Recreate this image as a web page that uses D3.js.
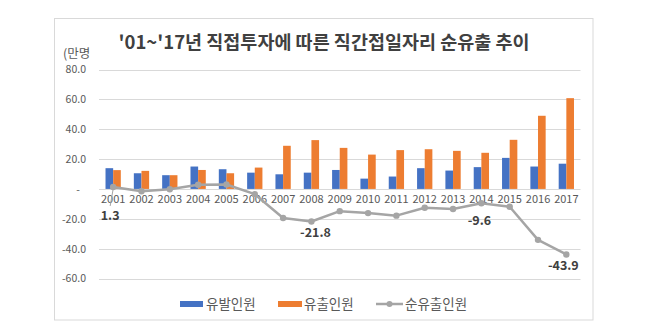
<!DOCTYPE html>
<html><head><meta charset="utf-8">
<script src="https://cdn.jsdelivr.net/npm/d3@7"></script>
<style>body{margin:0;background:#fff;font-family:"Noto Sans CJK KR","Noto Sans",sans-serif;}</style>
</head><body><svg id="c" width="654" height="336"></svg>
<script>
const years = ["2001","2002","2003","2004","2005","2006","2007","2008","2009","2010","2011","2012","2013","2014","2015","2016","2017"];
const induced = [13.9,10.5,9.2,15.0,13.2,10.9,9.8,10.9,12.7,6.9,8.3,13.9,12.3,14.6,20.8,15.0,16.9];
const outflow = [12.6,12.1,9.2,12.7,10.5,14.3,28.9,32.7,27.5,23.0,26.0,26.6,25.5,24.2,32.9,49.0,60.8];
const netOut = [1.3,-1.6,-0.2,2.8,3.0,-3.5,-19.5,-21.8,-14.9,-16.2,-17.9,-12.6,-13.4,-9.6,-11.9,-34.1,-43.9];
const yTicks = [80,60,40,20,0,-20,-40,-60];
const labeled = {"2001":1.3,"2008":-21.8,"2014":-9.6,"2017":-43.9};
const seriesNames = ["유발인원","유출인원","순유출인원"];
const title = "'01~'17년 직접투자에 따른 직간접일자리 순유출 추이";

const svg = d3.select("#c");
const C = {blue:"#4472C4", orange:"#ED7D31", gray:"#A5A5A5", text:"#595959", grid:"#D9D9D9"};
const fmt = v => v.toFixed(1);

svg.append("rect").attr("x",54.5).attr("y",18.5).attr("width",538.5).attr("height",301.5)
  .attr("fill","#fff").attr("stroke","#D9D9D9").attr("stroke-width",1);

svg.append("text").attr("x",324).attr("y",49).attr("text-anchor","middle")
  .attr("font-size",18.5).attr("font-weight","bold").attr("fill","#404040").text(title);
svg.append("text").attr("x",63).attr("y",57.5).attr("font-size",12.5).attr("fill",C.text).text("(만명");

const x = d3.scaleBand().domain(years).range([99,580.5]).paddingInner(0.46).paddingOuter(0.23);
const y = d3.scaleLinear().domain([-60,80]).range([278.5,69.5]);
const xs = d3.scaleBand().domain([0,1]).range([0,x.bandwidth()]);

// gridlines
svg.append("g").selectAll("line").data(yTicks.filter(d=>d!==0)).join("line")
  .attr("x1",99).attr("x2",580.5).attr("y1",d=>Math.round(y(d))+0.5).attr("y2",d=>Math.round(y(d))+0.5)
  .attr("stroke",C.grid).attr("stroke-width",1);

// y axis labels
const yAxis = d3.axisLeft(y).tickValues(yTicks).tickSize(0).tickPadding(0)
  .tickFormat(d=>d===0?"-":fmt(d));
const ga = svg.append("g").attr("transform","translate(86,0)").call(yAxis);
ga.select(".domain").remove();
ga.selectAll("text").attr("font-size",10.5).attr("fill",C.text)
  .attr("font-family","'Noto Sans CJK KR','Noto Sans',sans-serif")
  .attr("dx", d=>d===0?-6:0);

// bars
const g = svg.append("g");
g.selectAll(".b1").data(years).join("rect")
  .attr("x",d=>x(d)+xs(0)).attr("width",xs.bandwidth())
  .attr("y",(d,i)=>y(Math.max(0,induced[i]))).attr("height",(d,i)=>Math.abs(y(induced[i])-y(0)))
  .attr("fill",C.blue);
g.selectAll(".b2").data(years).join("rect")
  .attr("x",d=>x(d)+xs(1)).attr("width",xs.bandwidth())
  .attr("y",(d,i)=>y(Math.max(0,outflow[i]))).attr("height",(d,i)=>Math.abs(y(outflow[i])-y(0)))
  .attr("fill",C.orange);

// zero axis line
svg.append("line").attr("x1",99).attr("x2",580.5).attr("y1",Math.round(y(0))+0.5).attr("y2",Math.round(y(0))+0.5)
  .attr("stroke",C.grid).attr("stroke-width",1);

// x labels
const xAxis = d3.axisBottom(x).tickSize(0).tickPadding(0);
const gx = svg.append("g").attr("transform",`translate(0,${y(0)+6})`).call(xAxis);
gx.select(".domain").remove();
gx.selectAll("text").attr("font-size",11).attr("fill",C.text)
  .attr("font-family","'Noto Sans CJK KR','Noto Sans',sans-serif");

// line
const cx = d=>x(d)+x.bandwidth()/2;
const line = d3.line().x((d,i)=>cx(years[i])).y(d=>y(d));
svg.append("path").datum(netOut).attr("d",line).attr("fill","none")
  .attr("stroke",C.gray).attr("stroke-width",2.5).attr("stroke-linejoin","round");
svg.append("g").selectAll("circle").data(netOut).join("circle")
  .attr("cx",(d,i)=>cx(years[i])).attr("cy",d=>y(d)).attr("r",3.2).attr("fill",C.gray);

// data labels
const off = {"2001":[-3,33],"2008":[4,16],"2014":[-2,22],"2017":[-3,16]};
Object.keys(labeled).forEach(k=>{
  const px = cx(k), py = y(labeled[k]);
  if(k==="2001"){
    svg.append("line").attr("x1",px).attr("y1",py+2).attr("x2",px-3).attr("y2",py+19)
      .attr("stroke",C.gray).attr("stroke-width",1);
  }
  svg.append("text").attr("x",px+off[k][0]).attr("y",py+off[k][1]).attr("text-anchor","middle")
    .attr("font-size",12.5).attr("font-weight","bold").attr("fill","#404040")
    .text(fmt(labeled[k]));
});

// legend
const lg = svg.append("g").attr("font-size",13.5).attr("fill",C.text);
lg.append("rect").attr("x",180).attr("y",301).attr("width",23).attr("height",6).attr("fill",C.blue);
lg.append("text").attr("x",206).attr("y",309).text(seriesNames[0]);
lg.append("rect").attr("x",278).attr("y",301).attr("width",24).attr("height",6).attr("fill",C.orange);
lg.append("text").attr("x",304).attr("y",309).text(seriesNames[1]);
lg.append("line").attr("x1",376).attr("x2",403).attr("y1",304).attr("y2",304).attr("stroke",C.gray).attr("stroke-width",2.5);
lg.append("circle").attr("cx",389.5).attr("cy",304).attr("r",3).attr("fill",C.gray);
lg.append("text").attr("x",405).attr("y",309).text(seriesNames[2]);
</script></body></html>
